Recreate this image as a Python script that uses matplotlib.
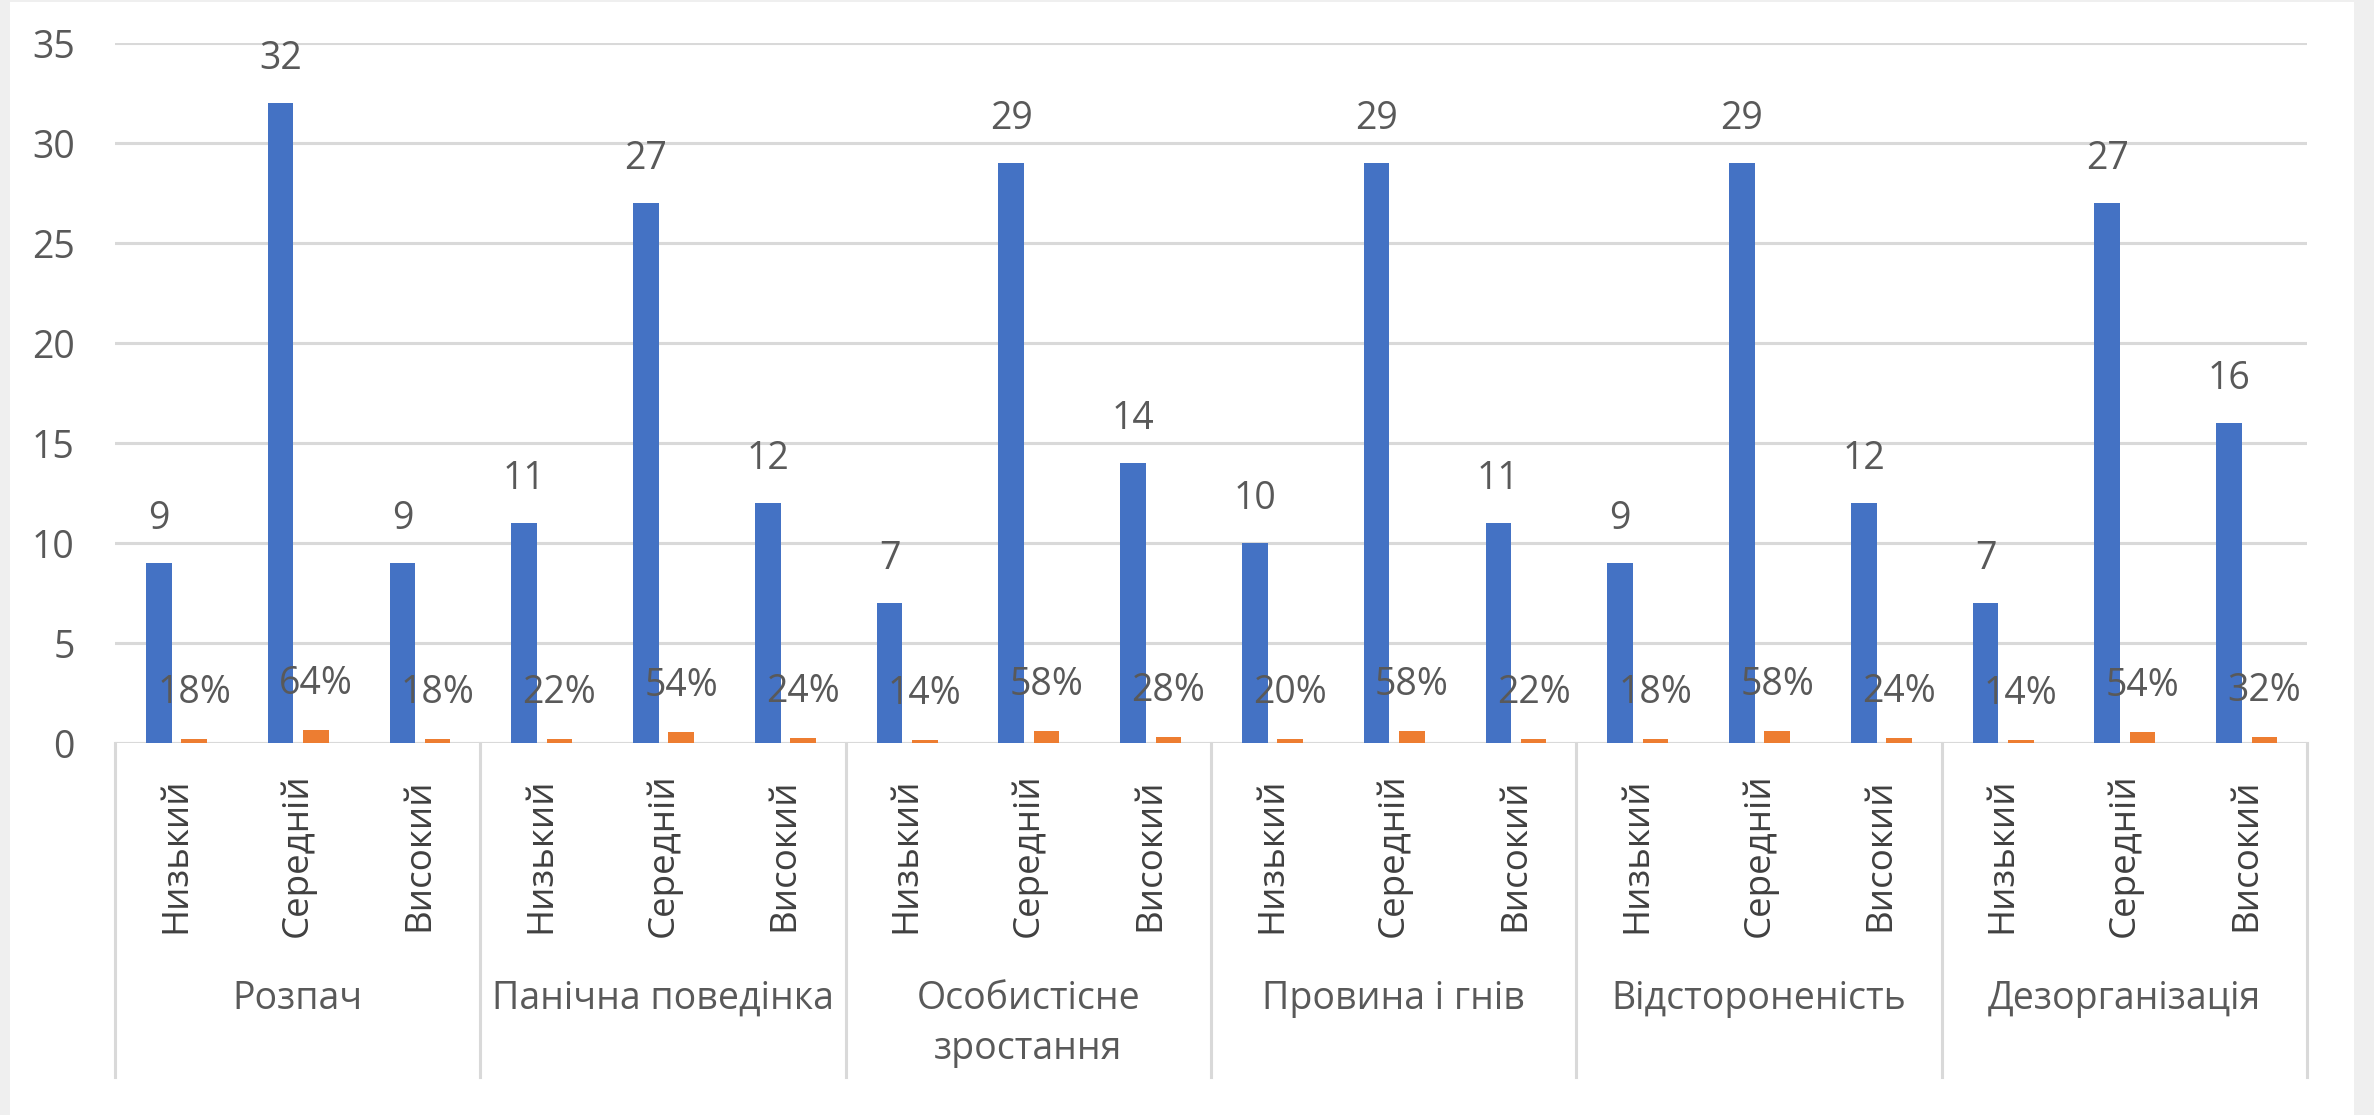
import matplotlib
matplotlib.use("Agg")
import matplotlib.pyplot as plt
from matplotlib.transforms import blended_transform_factory
from matplotlib.lines import Line2D
from matplotlib.patches import Rectangle

# ---- data ----
groups = ["Розпач", "Панічна поведінка", "Особистісне\nзростання",
          "Провина і гнів", "Відстороненість", "Дезорганізація"]
levels = ["Низький", "Середній", "Високий"]
counts = [9, 32, 9, 11, 27, 12, 7, 29, 14, 10, 29, 11, 9, 29, 12, 7, 27, 16]
percents = [18, 64, 18, 22, 54, 24, 14, 58, 28, 20, 58, 22, 18, 58, 24, 14, 54, 32]
yticks = [0, 5, 10, 15, 20, 25, 30, 35]

BLUE = "#4472C4"
ORANGE = "#ED7D31"
TXT = "#595959"
GRID = "#D9D9D9"
FONT = ["Open Sans", "DejaVu Sans"]
plt.rcParams["font.family"] = FONT

W, H = 2374, 1115
fig = plt.figure(figsize=(W / 100, H / 100), dpi=100)
fig.patch.set_facecolor("#EFEFEF")
bg = Rectangle((10 / W, 0), (2354 - 10) / W, 1 - 2 / H,
               transform=fig.transFigure, facecolor="white",
               edgecolor="none", zorder=-10)
fig.patches.append(bg)

ax = fig.add_axes([115 / W, 1 - 743 / H, (2307 - 115) / W, (743 - 43) / H])
ax.set_facecolor("none")
ax.set_zorder(1)

n = len(counts)
xs = list(range(n))
bw = 0.21
bx = [x - 0.14 for x in xs]
ox = [x + 0.15 for x in xs]
fr = [p / 100 for p in percents]

ax.bar(bx, counts, width=bw, color=BLUE, zorder=3)
ax.bar(ox, fr, width=bw, color=ORANGE, zorder=3)

NUM_FS = 27
for x, v in zip(bx, counts):
    ax.text(x, v + 2.2, str(v), ha="center", va="center", fontsize=NUM_FS, color=TXT, zorder=4)
for x, v, p in zip(ox, fr, percents):
    ax.text(x, v + 2.3, f"{p}%", ha="center", va="center", fontsize=NUM_FS, color=TXT, zorder=4)

ax.set_xlim(-0.5, n - 0.5)
ax.set_ylim(0, 35)
ax.set_yticks(yticks)
ax.set_yticklabels([str(t) for t in yticks])
ax.tick_params(axis="y", length=0, pad=29, labelsize=NUM_FS, labelcolor=TXT)
ax.set_xticks([])
ax.yaxis.grid(True, color=GRID, linewidth=2.2, zorder=0)
ax.set_axisbelow(True)
for s in ax.spines.values():
    s.set_visible(False)
ax.axhline(0, color=GRID, linewidth=2.2, zorder=2)

tr = blended_transform_factory(ax.transData, fig.transFigure)
# category labels (rotated)
for i, x in enumerate(xs):
    ax.text(x, 1 - 855 / H, levels[i % 3], rotation=90, ha="center", va="center",
            fontsize=26.5, color="#404040", transform=tr, clip_on=False)
# group labels
for g, name in enumerate(groups):
    cx = g * 3 + 1
    ax.text(cx, 1 - 980 / H, name, ha="center", va="top", fontsize=27,
            color=TXT, transform=tr, linespacing=1.4, multialignment="center",
            clip_on=False)
# separators
for g in range(len(groups) + 1):
    xb = g * 3 - 0.5
    ax.add_line(Line2D([xb, xb], [1 - 743 / H, 1 - 1077 / H], transform=tr,
                       color=GRID, linewidth=2.2, clip_on=False))

fig.savefig("out.png", dpi=100, facecolor=fig.get_facecolor())
